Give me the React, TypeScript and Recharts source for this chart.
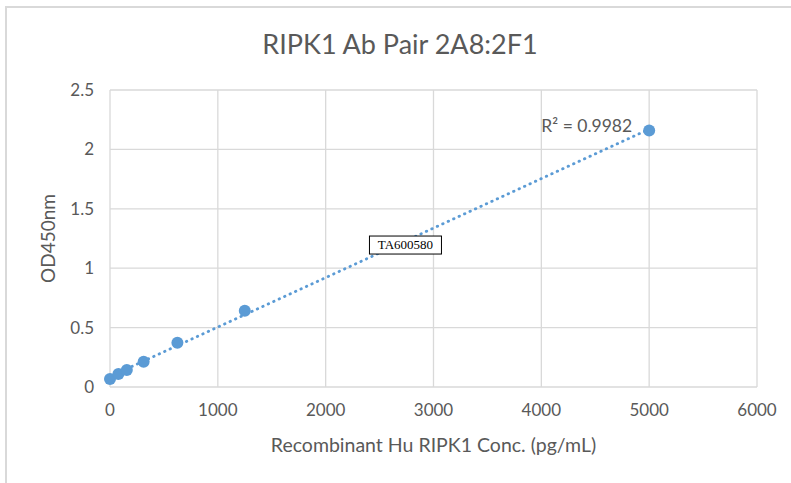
import React from 'react';
import {
  ScatterChart,
  Scatter,
  XAxis,
  YAxis,
  CartesianGrid,
  ReferenceDot,
} from 'recharts';

// standard curve: concentration (pg/mL) vs OD450
const concentrations = [0, 78, 156, 312, 625, 1250, 5000];
const odValues = [0.067, 0.11, 0.143, 0.213, 0.373, 0.642, 2.16];
const xTicks = [0, 1000, 2000, 3000, 4000, 5000, 6000];
const yTicks = [0, 0.5, 1, 1.5, 2, 2.5];
const rSquaredText = 'R² = 0.9982';
const stampText = 'TA600580';

const BLUE = '#5b9bd5';
const TEXT = '#595959';
const GRID = '#d9d9d9';
const FONT = 'Lato, "Open Sans", sans-serif';

// least squares line through the points (Excel linear trendline)
function linearFit(xs: number[], ys: number[]) {
  const n = xs.length;
  const mx = xs.reduce((a, b) => a + b, 0) / n;
  const my = ys.reduce((a, b) => a + b, 0) / n;
  let sxy = 0;
  let sxx = 0;
  for (let i = 0; i < n; i++) {
    sxy += (xs[i] - mx) * (ys[i] - my);
    sxx += (xs[i] - mx) * (xs[i] - mx);
  }
  const slope = sxy / sxx;
  return { slope, intercept: my - slope * mx };
}

const points = concentrations.map((c, i) => ({ x: c, y: odValues[i] }));
const fit = linearFit(concentrations, odValues);
const xMin = Math.min(...concentrations);
const xMax = Math.max(...concentrations);
const trendData = [xMin, xMax].map((x) => ({ x, y: fit.intercept + fit.slope * x }));
const lastPoint = points[points.length - 1];

const Dot = (props: any) => <circle cx={props.cx} cy={props.cy} r={6} fill={BLUE} />;

export default function App() {
  return (
    <div style={{ position: 'absolute', left: 0, top: 0, width: 791, height: 483, background: '#fff' }}>
      <div
        style={{
          position: 'absolute',
          left: 5,
          top: 6,
          width: 786,
          height: 477,
          borderTop: `2px solid ${GRID}`,
          borderLeft: `2px solid ${GRID}`,
          boxSizing: 'border-box',
        }}
      />
      <div
        style={{
          position: 'absolute',
          left: 0,
          top: 28,
          width: 800,
          textAlign: 'center',
          fontFamily: FONT,
          fontSize: 27,
          color: TEXT,
          lineHeight: '32px',
        }}
      >
        RIPK1 Ab Pair 2A8:2F1
      </div>
      <ScatterChart
        width={791}
        height={483}
        margin={{ top: 90, right: 34, bottom: 36, left: 30 }}
        style={{ position: 'absolute', left: 0, top: 0 }}
      >
        <CartesianGrid stroke={GRID} strokeWidth={1.3} />
        <XAxis
          type="number"
          dataKey="x"
          domain={[0, 6000]}
          ticks={xTicks}
          axisLine={false}
          tickLine={false}
          tickMargin={11}
          height={60}
          tick={{ fill: TEXT, fontSize: 17, fontFamily: FONT }}
          label={{
            value: 'Recombinant Hu RIPK1 Conc. (pg/mL)',
            position: 'insideBottom',
            offset: -5,
            style: { fill: TEXT, fontSize: 19.5, fontFamily: FONT },
          }}
        />
        <YAxis
          type="number"
          dataKey="y"
          domain={[0, 2.5]}
          ticks={yTicks}
          axisLine={false}
          tickLine={false}
          tickMargin={10}
          width={80}
          tick={{ fill: TEXT, fontSize: 17, fontFamily: FONT }}
          label={{
            value: 'OD450nm',
            angle: -90,
            position: 'insideLeft',
            offset: 18,
            style: { fill: TEXT, fontSize: 19, fontFamily: FONT, textAnchor: 'middle' },
          }}
        />
        <Scatter
          data={trendData}
          line={{ stroke: BLUE, strokeWidth: 2.8, strokeDasharray: '0.5 5.5', strokeLinecap: 'round' }}
          shape={() => <g />}
          isAnimationActive={false}
        />
        <Scatter data={points} fill={BLUE} shape={Dot} isAnimationActive={false} />
        <ReferenceDot
          x={lastPoint.x}
          y={lastPoint.y}
          r={0}
          shape={(p: any) => (
            <text
              x={p.cx - 17}
              y={p.cy - 3}
              textAnchor="end"
              dominantBaseline="middle"
              fill={TEXT}
              fontSize={17.5}
              fontFamily={FONT}
            >
              {rSquaredText}
            </text>
          )}
        />
        <ReferenceDot
          x={2740}
          y={1.195}
          r={0}
          shape={(p: any) => (
            <g>
              <rect x={p.cx - 36} y={p.cy - 9} width={72} height={18} fill="#fff" stroke="#000" strokeWidth={1} />
              <text
                x={p.cx}
                y={p.cy + 1}
                textAnchor="middle"
                dominantBaseline="middle"
                fill="#000"
                fontSize={13}
                fontFamily='"Liberation Serif", serif'
              >
                {stampText}
              </text>
            </g>
          )}
        />
      </ScatterChart>
    </div>
  );
}
